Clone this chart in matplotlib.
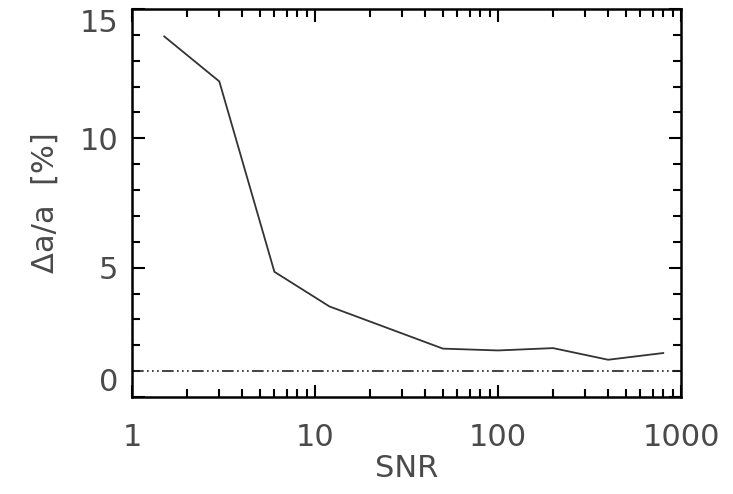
import matplotlib.pyplot as plt
from matplotlib.ticker import LogLocator, FixedLocator, MultipleLocator, FuncFormatter

snr = [1.5, 3, 6, 12, 50, 100, 200, 400, 800]
err = [13.94, 12.2, 4.84, 3.50, 1.87, 1.80, 1.89, 1.44, 1.70]
ref_level = 1.0

xticks = [1, 10, 100, 1000]
xtick_labels = ["1", "10", "100", "1000"]
yticks = [0, 5, 10, 15]

plt.rcParams["font.family"] = ["DejaVu Sans"]
txt = "#4a4a4a"

fig = plt.figure(figsize=(7.33, 4.94), dpi=100)
ax = fig.add_axes([132 / 733, 1 - 397 / 494, 549 / 733, 388 / 494])

ax.plot(snr, err, color="#333333", lw=1.3)
ax.axhline(ref_level, color="#222222", lw=1.2, dashes=(7, 2, 1, 2, 1, 2, 1, 2))

ax.set_xscale("log")
ax.set_xlim(1, 1000)
ax.set_ylim(0, 15)

ax.xaxis.set_major_locator(FixedLocator(xticks))
ax.xaxis.set_major_formatter(FuncFormatter(lambda v, p: xtick_labels[xticks.index(round(v))] if round(v) in xticks else ""))
ax.xaxis.set_minor_locator(LogLocator(base=10, subs=range(2, 10)))
ax.xaxis.set_minor_formatter(FuncFormatter(lambda v, p: ""))
ax.yaxis.set_major_locator(FixedLocator(yticks))
ax.yaxis.set_minor_locator(MultipleLocator(1))

ax.tick_params(which="both", direction="in", top=True, right=True, width=1.5,
               labelsize=22, labelcolor=txt)
ax.tick_params(which="major", length=9)
ax.tick_params(which="minor", length=5.5)
ax.tick_params(axis="x", which="major", pad=19)
ax.tick_params(axis="y", which="major", pad=10)

for s in ax.spines.values():
    s.set_linewidth(1.8)

fig.canvas.draw()
ylabels = ax.get_yticklabels()
ylabels[0].set_va("bottom")
ylabels[-1].set_va("top")

ax.set_xlabel("SNR", fontsize=22, color=txt, labelpad=1)
ax.set_ylabel("Δa/a  [%]", fontsize=22, color=txt, labelpad=14)

fig.savefig("out.png", dpi=100)
